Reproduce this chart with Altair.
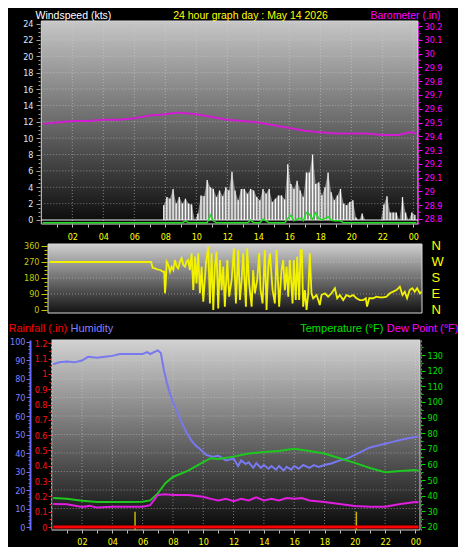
import altair as alt
import pandas as pd

# ------------------------------------------------------------------ values
# Barometer (inHg)
baro_hours = [0.1, 1, 2, 3, 4, 5, 6, 7, 8, 8.7, 9, 10, 11, 12, 13, 14, 15, 16, 17, 18,
              19, 20, 21, 22, 23, 23.8, 24.2]
baro_values = [29.49, 29.50, 29.51, 29.51, 29.52, 29.52, 29.53, 29.55, 29.56, 29.57,
               29.57, 29.56, 29.54, 29.52, 29.51, 29.50, 29.48, 29.46, 29.44, 29.43,
               29.42, 29.42, 29.42, 29.41, 29.41, 29.43, 29.42]

# Wind speed samples (kts), one every 0.2 h from 7.9 h
wind_first_hour = 7.9
wind_step_hours = 0.2
wind_speed = [1.8, 2.8, 2.6, 3.8, 2.0, 2.8, 2.0, 2.6, 2.0, 1.9,
              0.0, 0.8, 3.0, 2.9, 4.9, 4.0, 3.8, 2.8, 3.6, 2.9,
              4.0, 3.6, 5.9, 3.6, 2.4, 3.8, 3.8, 3.2, 3.8, 3.6,
              2.8, 2.4, 3.8, 3.2, 3.8, 2.2, 2.6, 3.0, 3.0, 2.5,
              6.8, 4.4, 3.8, 4.8, 3.6, 2.8, 5.8, 5.8, 8.0, 4.4,
              4.6, 3.0, 4.0, 5.8, 3.4, 2.4, 3.0, 3.8, 2.0, 1.8,
              2.2, 2.4, 0.3, 0.0, 0.8, 0.0, 0.0, 0.0, 0.0, 0.0,
              0.0, 1.9, 2.9, 0.9, 0.9, 0.9, 0.0, 2.8, 0.9, 0.0,
              0.9, 0.6]
wind_hours = [round(wind_first_hour + wind_step_hours * i, 1) for i in range(len(wind_speed))]

# Average wind (green trace)
avg_hours = [0.1, 9.1, 9.3, 9.5, 10.7, 10.9, 11.1, 11.3, 13.3, 13.5, 13.7, 14.1, 14.3, 14.5,
             14.7, 15.7, 15.9, 16.1, 16.3, 16.5, 16.7, 16.9, 17.1, 17.3, 17.5, 17.7, 17.9,
             18.1, 18.3, 18.5, 18.7, 18.9, 19.3, 19.5, 24.2]
avg_speed = [-0.35, -0.35, -0.1, -0.35, -0.35, 0.6, -0.1, -0.35, -0.35, 0.0, -0.35, -0.35,
             0.1, -0.1, -0.35, -0.35, 0.2, 0.6, -0.1, 0.1, 0.2, -0.1, 0.9, 0.7, 0.1, 0.9,
             0.2, 0.0, 0.2, 0.4, 0.0, -0.1, -0.1, -0.35, -0.35]

# Wind direction (degrees)
dir_hours = [0.1, 6.7, 6.8, 6.95, 7.1, 7.3, 7.45, 7.55, 7.6, 7.65,
             7.71, 7.82, 7.93, 8.03, 8.14, 8.25, 8.36, 8.46, 8.57, 8.68,
             8.79, 8.90, 9.0, 9.11, 9.22, 9.33, 9.44, 9.55, 9.65, 9.76,
             9.87, 9.98, 10.09, 10.26, 10.41, 10.52, 10.63, 10.74, 10.84, 10.95,
             11.06, 11.17, 11.28, 11.39, 11.49, 11.65, 11.77, 11.93, 12.08, 12.21,
             12.36, 12.47, 12.58, 12.68, 12.86, 12.94, 13.07, 13.23, 13.33, 13.44,
             13.59, 13.72, 13.81, 13.94, 14.09, 14.2, 14.31, 14.42, 14.59, 14.74,
             14.85, 15.02, 15.17, 15.28, 15.39, 15.5, 15.61, 15.71, 15.89, 15.97,
             16.10, 16.19, 16.32, 16.41, 16.49, 16.58, 16.69, 16.8, 16.91, 17.01,
             17.12, 17.23, 17.45, 17.56, 17.66, 17.77, 17.99, 18.2, 18.42, 18.64,
             18.79, 18.96, 19.18, 19.39, 19.61, 19.83, 20.04, 20.26, 20.48, 20.65,
             20.73, 20.87, 21.13, 21.34, 21.56, 21.78, 21.99, 22.21, 22.43, 22.64,
             22.86, 23.03, 23.18, 23.33, 23.5, 23.67, 23.83, 23.98, 24.16, 24.27]
dir_degrees = [270, 270, 238, 234, 229, 225, 216, 216, 94, 150,
               272, 253, 216, 244, 225, 281, 244, 234, 272, 291,
               253, 244, 272, 281, 225, 319, 112, 300, 150, 319,
               94, 244, 47, 262, 356, 37, 319, 0, 244, 328,
               9, 281, 112, 244, 19, 281, 75, 169, 347, 37,
               337, 56, 169, 319, 19, 347, 150, 19, 225, 94,
               169, 319, 112, 37, 337, 0, 244, 319, 112, 37,
               337, 19, 225, 281, 112, 244, 75, 281, 37, 281,
               56, 300, 56, 337, 337, 19, 112, 0, 94, 319,
               94, 66, 84, 56, 28, 84, 94, 75, 94, 122,
               66, 84, 56, 84, 75, 84, 66, 56, 56, 66,
               19, 66, 66, 75, 71, 71, 75, 94, 103, 112,
               131, 84, 103, 66, 112, 122, 103, 122, 94, 103]

# Humidity (%)
hum_hours = [0.1, 0.5, 1, 1.5, 2, 2.4, 3, 3.5, 4, 4.5, 5, 5.5, 6, 6.3, 6.5, 7, 7.2, 7.4, 7.6,
             7.8, 8, 8.3, 8.6, 8.9, 9.2, 9.5, 9.8, 10.2, 10.6, 11, 11.5, 12, 12.3, 12.5, 12.8,
             13, 13.3, 13.5, 13.8, 14, 14.3, 14.5, 14.8, 15, 15.3, 15.5, 15.8, 16, 16.3, 16.6,
             17, 17.3, 17.6, 18, 18.5, 19, 19.5, 20, 20.5, 21, 21.5, 22, 22.5, 23, 23.5, 24, 24.2]
hum_values = [88, 89, 89.5, 89, 90, 92, 91.5, 92, 92.5, 93.5, 93.5, 93.5, 93.5, 94.5, 93.5,
              95.5, 94, 85, 78, 72, 67.5, 62, 56, 51, 47, 44, 42, 39, 38, 38.5, 36, 37, 33,
              36, 34, 35, 32, 34.5, 32, 33.5, 31.5, 33, 31, 33, 30.5, 32.5, 31, 33, 31.5,
              33.5, 32, 33.5, 32.5, 33.5, 34.5, 36, 37, 39, 41, 43, 44, 45, 46, 47, 48, 48.6, 49]

# Temperature (F)
temp_hours = [0.1, 1, 2, 3, 4, 5, 6, 6.5, 7, 7.5, 8, 9, 10, 10.5, 11, 12, 13, 14, 15, 16,
              17, 18, 19, 20, 21, 22, 23, 24, 24.2]
temp_values = [38.5, 38, 36.8, 36, 36, 36, 36.2, 37, 41.5, 48, 52, 56, 61.5, 64, 63.5, 65,
               67, 68, 68.6, 70, 68.6, 67, 64, 61, 57.7, 55, 55.8, 56.5, 56]

# Dew point (F)
dew_hours = [0.1, 1, 2, 2.5, 3, 4, 5, 6, 6.5, 7, 7.5, 8, 9, 10, 10.5, 11, 11.5, 12, 12.5,
             13, 13.5, 14, 14.5, 15, 15.5, 16, 16.5, 17, 18, 19, 20, 21, 22, 23, 24, 24.2]
dew_values = [34.7, 34.5, 32.8, 33.5, 32.4, 33, 33, 33, 34, 40.5, 41, 40.5, 40.5, 39.4, 38,
              37, 38, 36.5, 38, 37, 39, 37, 38, 37, 38.5, 38, 38.5, 37, 36, 34.7, 33.4, 33,
              33, 34.7, 36, 35.8]

# Rainfall (in)
rain_hours = [0.1, 24.2]
rain_values = [0.0, 0.0]
marker_hours = [5.5, 20.1]
marker_top = 0.1

# Axis ticks
hour_ticks = list(range(1, 25))
hour_grid = list(range(2, 25, 2))
wind_ticks = [i / 2 for i in range(0, 49)]
wind_grid = list(range(2, 25, 2))
baro_ticks = [round(28.8 + i * 0.05, 2) for i in range(0, 29)]
dir_ticks = [i * 22.5 for i in range(0, 17)]
compass_ticks = [0, 90, 180, 270, 360]
dir_grid = [90, 180, 270]
hum_ticks = list(range(0, 101, 2))
hum_grid = list(range(10, 100, 10))
rain_ticks = [round(i * 0.05, 2) for i in range(0, 25)]
temp_ticks = list(range(20, 136, 5))

# ------------------------------------------------------------------ scales
X_DOM = [0, 24.3]
WIND_DOM = [-0.49, 24.31]
BARO_DOM = [28.7637, 30.2363]
DIR_DOM = [-16.9, 371.2]
HUM_DOM = [-1.62, 101.08]
RAIN_DOM = [-0.0196, 1.222]
TEMP_DOM = [18.08, 139.6]
TOP_R = [216, 13]
MID_R = [305, 236]
BOT_R = [522, 332]


def sc(dom, rng):
    return alt.Scale(domain=dom, range=rng, nice=False, zero=False)


X_TOP = sc(X_DOM, [33.3, 410])
X_MID = sc(X_DOM, [40, 414])
X_BOT = sc(X_DOM, [43.7, 412])
Y_WIND = sc(WIND_DOM, TOP_R)
Y_BARO = sc(BARO_DOM, TOP_R)
Y_DIR = sc(DIR_DOM, MID_R)
Y_HUM = sc(HUM_DOM, BOT_R)
Y_RAIN = sc(RAIN_DOM, BOT_R)
Y_TEMP = sc(TEMP_DOM, BOT_R)

NARROW = "Liberation Sans Narrow, DejaVu Sans Condensed, Arial Narrow, sans-serif"
SANS = "Liberation Sans, Arial, sans-serif"

HOUR_EXPR = ("datum.value % 2 == 0 ? (datum.value % 24 < 10 ? '0' : '') + "
             "(datum.value % 24) : ''")
TOP_TITLE_Y = 10.5


def axis(orient, offset, values, color, tick_color=None, label_expr=None,
         major_test=None, major=4, minor=2, **kw):
    d = dict(orient=orient, offset=offset, values=values, grid=False,
             labelColor=color, labelFont=NARROW, labelFontSize=9,
             labelOverlap=False, labelFlush=False, labelBound=False,
             tickColor=tick_color or color, zindex=3, domain=False)
    if label_expr:
        d["labelExpr"] = label_expr
    if major_test:
        d["tickSize"] = {"condition": {"test": major_test, "value": major}, "value": minor}
    else:
        d["tickSize"] = major
    d.update(kw)
    if "title" not in d:
        d["title"] = None
    return alt.Axis(**d)


def title_kw(text, x, y, color, align="left", size=11):
    return dict(title=text, titleX=x, titleY=y, titleAngle=0, titleAlign=align,
                titleBaseline="alphabetic", titleColor=color, titleFont=SANS,
                titleFontSize=size, titleFontWeight="normal")


def grad(stops):
    return alt.Gradient(gradient="linear",
                        stops=[alt.GradientStop(color=c, offset=o) for o, c in stops],
                        x1=0, x2=0, y1=0, y2=1)


one = pd.DataFrame({"k": [0]})


def bg(xs, ys, ydom, stops, xaxis, yaxis):
    return alt.Chart(one).mark_rect(fill=grad(stops), stroke="#d8d8d8", strokeWidth=1).encode(
        x=alt.XDatum(X_DOM[0], scale=xs, axis=xaxis),
        x2=alt.X2Datum(X_DOM[1]),
        y=alt.YDatum(ydom[0], scale=ys, axis=yaxis),
        y2=alt.Y2Datum(ydom[1]),
    )


def vgrid(xs, ys, ydom, hours):
    return alt.Chart(pd.DataFrame({"h": hours})).mark_rule(
        color="#d8d8d8", opacity=0.5, strokeDash=[1, 2], strokeWidth=1).encode(
        x=alt.X("h:Q", scale=xs, axis=None),
        y=alt.YDatum(ydom[0], scale=ys, axis=None),
        y2=alt.Y2Datum(ydom[1]),
    )


def hgrid(xs, ys, vals):
    return alt.Chart(pd.DataFrame({"v": vals})).mark_rule(
        color="#d8d8d8", opacity=0.5, strokeDash=[1, 2], strokeWidth=1).encode(
        y=alt.Y("v:Q", scale=ys, axis=None),
        x=alt.XDatum(X_DOM[0], scale=xs, axis=None),
        x2=alt.X2Datum(X_DOM[1]),
    )


def line(hours, vals, xs, ys, color, width, yaxis=None):
    df = pd.DataFrame({"h": hours, "v": vals})
    return alt.Chart(df).mark_line(color=color, strokeWidth=width).encode(
        x=alt.X("h:Q", scale=xs, axis=None),
        y=alt.Y("v:Q", scale=ys, axis=yaxis),
    )


# ------------------------------------------------------------------ top panel
top_x_axis = axis("bottom", -323, hour_ticks, "#ffff00", tick_color="#c8c8c8",
                  label_expr=HOUR_EXPR, major=3, labelPadding=5,
                  **title_kw("24 hour graph day : May 14 2026", 242, TOP_TITLE_Y - 216,
                             "#ffff00", "center", 10.5))
wind_axis = axis("left", -32, wind_ticks, "#dce6ff", tick_color="#a0a0a0",
                 label_expr="datum.value % 2 == 0 ? '' + datum.value : ''",
                 major_test="datum.value % 2 == 0", major=4, minor=2, labelPadding=3,
                 **title_kw("Windspeed (kts)", -5, TOP_TITLE_Y, "#ffffff", "left", 10.5))
baro_axis = axis("right", -40, baro_ticks, "#ff00ff",
                 label_expr="abs(datum.value * 10 - round(datum.value * 10)) < 0.01 ? '' + round(datum.value * 10) / 10 : ''",
                 major_test="abs(datum.value * 10 - round(datum.value * 10)) < 0.01",
                 major=4, minor=2, labelPadding=2, domain=True, domainColor="#ff00ff",
                 domainDash=[2, 2], domainWidth=1,
                 **title_kw("Barometer (.in)", 22, TOP_TITLE_Y, "#ff00ff", "right", 10.5))

top_bg = bg(X_TOP, Y_WIND, WIND_DOM,
            [(0, "#c6c6c6"), (0.5, "#6a6a6a"), (1, "#0a0a0a")], top_x_axis, wind_axis)
top_vgrid = vgrid(X_TOP, Y_WIND, WIND_DOM, hour_grid)
top_hgrid = hgrid(X_TOP, Y_WIND, wind_grid)

wind_df = pd.DataFrame({"h": wind_hours, "v": wind_speed})
wind_area = alt.Chart(wind_df).mark_area(color="#e8e8e8", opacity=0.5).encode(
    x=alt.X("h:Q", scale=X_TOP, axis=None),
    y=alt.Y("v:Q", scale=Y_WIND, axis=None),
)
wind_bars = alt.Chart(wind_df).mark_rule(color="#ffffff", strokeWidth=1.3, opacity=0.95).encode(
    x=alt.X("h:Q", scale=X_TOP, axis=None),
    y=alt.Y("v:Q", scale=Y_WIND, axis=None),
    y2=alt.Y2Datum(0),
)
wind_zero = alt.Chart(one).mark_rule(color="#f0f0f0", strokeWidth=1).encode(
    y=alt.YDatum(0, scale=Y_WIND, axis=None),
    x=alt.XDatum(X_DOM[0], scale=X_TOP, axis=None),
    x2=alt.X2Datum(X_DOM[1]),
)
avg_line = line(avg_hours, avg_speed, X_TOP, Y_WIND, "#22dd22", 1.5)
baro_line = line(baro_hours, baro_values, X_TOP, Y_BARO, "#d21cd2", 2, baro_axis)

# ------------------------------------------------------------------ middle panel
dir_axis = axis("left", -39, dir_ticks, "#c8c800",
                label_expr="datum.value % 90 == 0 ? '' + datum.value : ''",
                major_test="datum.value % 90 == 0", major=6, minor=3, labelPadding=2)
compass_axis = axis("right", -27, compass_ticks, "#ffff00",
                    label_expr="datum.value == 0 ? 'N' : datum.value == 90 ? 'E' : datum.value == 180 ? 'S' : datum.value == 270 ? 'W' : 'N'",
                    ticks=False, labelPadding=0, labelFont=SANS, labelFontSize=13)
mid_bg = bg(X_MID, Y_DIR, DIR_DOM, [(0, "#d0d0d0"), (0.5, "#707070"), (1, "#121212")],
            None, dir_axis)
mid_hgrid = hgrid(X_MID, Y_DIR, dir_grid)
dir_line = line(dir_hours, dir_degrees, X_MID, Y_DIR, "#f2f200", 1.8, compass_axis)

# ------------------------------------------------------------------ bottom panel
bot_x_axis = axis("bottom", -17, hour_ticks, "#ffff00", tick_color="#c8c8c8",
                  label_expr=HOUR_EXPR, major=3, labelPadding=4)
hum_axis = axis("left", -22, hum_ticks, "#8080ff", tick_color="#7070ff",
                label_expr="datum.value % 10 == 0 ? '' + datum.value : ''",
                major_test="datum.value % 10 == 0", major=4, minor=2, labelPadding=1,
                domain=True, domainColor="#6a6aff", domainWidth=2,
                **title_kw("Humidity", 40, 323, "#8080ff"))
rain_axis = axis("left", -43, rain_ticks, "#ff1010",
                 label_expr="abs(datum.value * 10 - round(datum.value * 10)) < 0.01 ? '' + round(datum.value * 10) / 10 : ''",
                 major_test="abs(datum.value * 10 - round(datum.value * 10)) < 0.01",
                 major=3, minor=2, labelPadding=1, domain=True, domainColor="#ff0000",
                 domainDash=[2, 2], domainWidth=1,
                 **title_kw("Rainfall (.in)", -43, 323, "#ff0000"))
temp_axis = axis("right", -37, temp_ticks, "#00e000",
                 label_expr="datum.value % 10 == 0 ? '' + datum.value : ''",
                 major_test="datum.value % 10 == 0", major=4, minor=2, labelPadding=2,
                 domain=True, domainColor="#00d000", domainDash=[2, 2], domainWidth=1,
                 **title_kw("Temperature (°F)", -38, 323, "#00e000", "right"))
dew_axis = axis("right", -37, [20], "#ff00ff", labels=False, ticks=False,
                **title_kw("Dew Point (°F)", 37, 323, "#ff00ff", "right"))

bot_bg = bg(X_BOT, Y_HUM, HUM_DOM, [(0, "#d2d2d2"), (0.5, "#6e6e6e"), (1, "#080808")],
            bot_x_axis, hum_axis)
bot_vgrid = vgrid(X_BOT, Y_HUM, HUM_DOM, hour_grid)
bot_hgrid = hgrid(X_BOT, Y_HUM, hum_grid)
hum_line = line(hum_hours, hum_values, X_BOT, Y_HUM, "#7878f0", 2)
temp_line = line(temp_hours, temp_values, X_BOT, Y_TEMP, "#1ec81e", 2, temp_axis)
dew_line = line(dew_hours, dew_values, X_BOT, Y_TEMP, "#e01ee0", 2, dew_axis)
markers = alt.Chart(pd.DataFrame({"h": marker_hours})).mark_rule(
    color="#c8b400", strokeWidth=1.5).encode(
    x=alt.X("h:Q", scale=X_BOT, axis=None),
    y=alt.YDatum(marker_top, scale=Y_RAIN, axis=None),
    y2=alt.Y2Datum(RAIN_DOM[0]),
)
rain_line = line(rain_hours, rain_values, X_BOT, Y_RAIN, "#ff0000", 3, rain_axis)

chart = alt.layer(
    top_bg, top_vgrid, top_hgrid, wind_area, wind_bars, wind_zero, avg_line, baro_line,
    mid_bg, mid_hgrid, dir_line,
    bot_bg, bot_vgrid, bot_hgrid, markers, hum_line, temp_line, dew_line, rain_line,
).resolve_scale(x="independent", y="independent").resolve_axis(
    x="independent", y="independent"
).properties(
    width=450, height=539, autosize=alt.AutoSizeParams(type="none"), padding=0,
    background="#000000",
).configure_view(strokeWidth=0)

chart.save("out.html", embed_options={"renderer": "svg", "actions": False})
